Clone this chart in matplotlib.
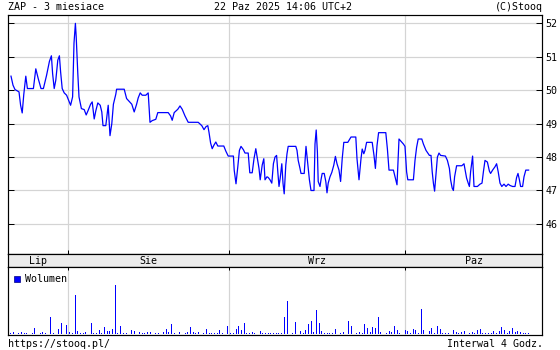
import numpy as np
import matplotlib
matplotlib.use("Agg")
import matplotlib.pyplot as plt
from matplotlib.patches import Rectangle

# time axis in half trading-day units (2 per session day)
t = [1.5, 2.0, 2.5, 3.5, 3.9, 4.3, 4.7, 5.2, 5.6, 7.1,
     7.7, 8.3, 9.0, 9.6, 10.4, 11.1, 11.6, 11.9, 12.3, 12.7,
     13.2, 13.6, 13.9, 14.3, 14.8, 15.4, 16.4, 16.9, 17.25, 17.6,
     17.8, 18.2, 18.5, 19.1, 19.8, 20.3, 20.8, 21.4, 21.8, 22.3,
     22.7, 23.2, 23.8, 24.2, 24.5, 25.2, 25.8, 26.25, 26.7, 27.1,
     27.7, 27.9, 29.8, 30.4, 31.7, 32.3, 32.9,
     33.3, 33.8, 34.3, 35.2, 35.8, 36.25, 36.8, 37.7, 38.2, 40.8,
     41.4, 41.8, 42.3, 43.2, 43.75, 44.3, 45.0, 45.8, 48.3, 49.2,
     49.75, 50.25, 50.7, 51.0, 51.4, 51.8, 52.2, 52.7, 53.2, 54.7,
     55.2, 55.8, 57.1, 57.3, 57.75, 58.2, 58.6, 59.0, 59.6, 60.0,
     60.8, 61.2, 61.8, 62.25, 62.7, 63.1, 63.5, 63.8, 64.3, 64.7,
     65.0, 65.5,
     65.8, 66.25, 66.7, 67.1, 67.5, 67.9, 68.2, 68.5, 68.8, 69.2,
     69.5, 69.8, 70.2, 70.5, 70.8, 72.7, 73.0, 73.3, 73.75, 74.0,
     74.8, 75.25, 75.7, 76.1, 76.5, 77.25, 77.5, 77.8, 78.1, 78.3,
     78.75, 79.0, 79.3, 79.8, 80.2, 80.5, 80.8, 81.25, 81.7, 82.2,
     82.6, 83.0, 83.5, 83.9, 84.3, 84.7, 85.7, 86.5, 87.7, 88.0,
     88.5, 89.0, 89.3, 89.7, 90.0, 90.4, 91.8, 92.25, 92.6, 93.0,
     93.4, 95.2, 95.6, 96.0, 97.1, 97.5, 98.0, 98.5,
     99.6, 100.0, 100.4, 100.7, 102.1, 102.5, 102.9, 103.3, 104.2, 104.6,
     105.25, 106.1, 106.5, 106.8, 107.1, 107.4, 107.75, 108.1, 108.5, 108.9,
     110.1, 110.6, 111.1, 111.4, 111.8, 112.1, 112.4, 112.9, 114.2, 114.75,
     115.1, 115.4, 115.8, 116.1, 116.4, 116.9, 117.25, 118.1, 118.75, 119.25,
     119.6, 120.0, 120.6, 121.1, 121.4, 121.9, 122.5, 122.9, 123.3, 123.75,
     124.2, 124.75, 125.25, 125.8, 126.25, 126.9, 127.5, 127.9, 128.25, 128.6,
     128.9, 129.4, 129.75, 130.2, 130.9]

price = [50.42, 50.15, 50.02, 49.95, 49.55, 49.32, 49.88, 50.42, 50.05, 50.05,
         50.64, 50.35, 50.05, 50.05, 50.45, 50.86, 51.03, 50.5, 50.05, 50.3,
         50.9, 51.03, 50.55, 50.05, 49.92, 49.85, 49.55, 49.8, 51.41, 52.0,
         51.6, 50.5, 49.8, 49.45, 49.42, 49.26, 49.4, 49.58, 49.65, 49.14,
         49.38, 49.62, 49.55, 49.35, 48.94, 48.94, 49.55, 48.64, 49.0, 49.58,
         49.88, 50.03, 50.03, 49.75, 49.58, 49.35, 49.58,
         49.77, 49.92, 49.85, 49.85, 49.92, 49.04, 49.09, 49.13, 49.33, 49.33,
         49.23, 49.1, 49.33, 49.43, 49.53, 49.43, 49.23, 49.04, 49.04, 48.94,
         48.82, 48.91, 48.94, 48.74, 48.42, 48.25, 48.35, 48.45, 48.33, 48.33,
         48.18, 48.03, 48.03, 47.61, 47.2, 47.71, 48.2, 48.32, 48.22, 48.12,
         48.12, 47.53, 47.53, 47.95, 48.25, 47.95, 47.66, 47.32, 47.76, 47.95,
         47.32, 47.41,
         47.39, 47.32, 47.22, 47.8, 48.0, 48.05, 47.56, 47.12, 47.37, 47.8,
         47.22, 46.9, 47.76, 48.1, 48.32, 48.32, 48.2, 47.9, 47.66, 47.51,
         47.51, 48.32, 47.8, 47.32, 47.0, 47.0, 48.39, 48.81, 48.15, 47.27,
         47.12, 47.32, 47.51, 47.51, 47.27, 46.93, 47.22, 47.41, 47.54, 47.76,
         48.02, 47.8, 47.61, 47.27, 47.95, 48.44, 48.44, 48.6, 48.6, 47.95,
         47.32, 47.95, 48.24, 48.1, 48.2, 48.44, 48.44, 48.05, 47.66, 48.34,
         48.73, 48.73, 48.24, 47.61, 47.61, 47.41, 47.17, 48.54,
         48.39, 48.32, 47.56, 47.32, 47.32, 47.9, 48.29, 48.54, 48.54, 48.39,
         48.2, 48.05, 48.05, 47.56, 47.22, 46.98, 47.51, 48.0, 48.12, 48.05,
         48.03, 47.9, 47.66, 47.32, 47.07, 47.0, 47.41, 47.74, 47.74, 47.8,
         47.56, 47.37, 47.22, 47.12, 47.56, 48.03, 47.12, 47.12, 47.19, 47.22,
         47.56, 47.9, 47.85, 47.58, 47.51, 47.61, 47.71, 47.8, 47.56, 47.22,
         47.12, 47.19, 47.12, 47.19, 47.15, 47.12, 47.12, 47.39, 47.51, 47.32,
         47.12, 47.12, 47.41, 47.61, 47.61]

# volume per 4h bar (relative units), first bar to last bar
volume = [5, 7, 0, 4, 7, 5, 4, 0, 4, 18,
          0, 4, 7, 4, 0, 52, 5, 0, 15, 34,
          0, 28, 7, 4, 117, 10, 5, 5, 7, 0,
          34, 4, 5, 12, 5, 22, 10, 10, 15, 147,
          4, 24, 5, 4, 0, 12, 10, 0, 7, 4,
          4, 7, 7, 0, 4, 4, 0, 7, 15, 7,
          30, 4, 0, 7, 0, 4, 7, 21, 7, 4,
          7, 0, 4, 15, 5, 4, 4, 4, 12, 5,
          0, 24, 4, 4, 15, 24, 12, 34, 4, 4,
          7, 4, 0, 10, 4, 4, 4, 4, 4, 4,
          4, 4, 52, 100, 0, 5, 37, 0, 10, 5,
          12, 31, 40, 7, 72, 34, 10, 5, 4, 4,
          4, 15, 0, 5, 7, 0, 40, 24, 0, 5,
          7, 5, 31, 19, 7, 22, 19, 52, 7, 0,
          4, 10, 7, 25, 12, 4, 0, 12, 10, 4,
          15, 12, 4, 75, 12, 0, 10, 19, 5, 25,
          15, 4, 4, 4, 0, 12, 7, 4, 7, 10,
          0, 4, 7, 5, 12, 15, 4, 4, 4, 4,
          10, 4, 10, 22, 12, 5, 10, 19, 7, 10,
          7, 4, 4, 4]
vol_first, vol_last = 1.4, 130.9

month_labels = ["Lip", "Sie", "Wrz", "Paz"]
month_starts = [15.75, 56, 100]
price_ticks = [46, 47, 48, 49, 50, 51, 52]

x_range = (0.75, 134.25)
y_range = (45.10, 52.25)

BLUE = "#0000ff"
GRID = "#d4d4d4"
MONO = "DejaVu Sans Mono"
FS = 7.2
PX = 0.72  # one pixel in points

fig = plt.figure(figsize=(5.6, 3.5), dpi=100)
W, H = 560, 350


def box(x0, y0, x1, y1):
    return [x0 / W, 1 - y1 / H, (x1 - x0) / W, (y1 - y0) / H]


ax = fig.add_axes(box(8, 15, 542, 254))
strip = fig.add_axes(box(8, 254, 542, 267))
axv = fig.add_axes(box(8, 267, 542, 335))

# price panel
ax.plot(t, price, color=BLUE, lw=0.9)
ax.set_xlim(*x_range)
ax.set_ylim(*y_range)
ax.set_yticks(price_ticks)
ax.set_yticklabels([str(p) for p in price_ticks], fontfamily=MONO, fontsize=FS)
ax.set_xticks(month_starts)
ax.set_xticklabels([])
ax.grid(True, color=GRID, lw=1.2 * PX)
ax.set_axisbelow(True)
ax.tick_params(axis="y", which="both", left=True, right=True, labelleft=False,
               labelright=True, direction="in", length=4, width=PX, pad=2.5)
ax.tick_params(axis="x", direction="in", length=3, width=PX, top=False)
for s in ax.spines.values():
    s.set_linewidth(1.2 * PX)

# month strip
strip.set_facecolor("#ececec")
strip.set_xlim(*x_range)
strip.set_ylim(0, 1)
strip.set_xticks([])
strip.set_yticks([])
bounds = [x_range[0]] + month_starts + [x_range[1]]
for i, lab in enumerate(month_labels):
    strip.text((bounds[i] + bounds[i + 1]) / 2, 0.45, lab, ha="center", va="center",
               fontfamily=MONO, fontsize=FS)
for s in strip.spines.values():
    s.set_linewidth(1.2 * PX)

# volume panel
vol_t = np.linspace(vol_first, vol_last, len(volume))
axv.bar(vol_t, volume, width=0.25, color=BLUE, linewidth=0, antialiased=False)
axv.set_xlim(*x_range)
axv.set_ylim(-1.5, 200)
axv.set_xticks(month_starts)
axv.set_xticklabels([])
axv.set_yticks([])
axv.grid(True, axis="x", color=GRID, lw=1.2 * PX)
axv.set_axisbelow(True)
axv.tick_params(axis="x", direction="in", length=2.5, width=PX, top=True, bottom=False)
for s in axv.spines.values():
    s.set_linewidth(1.2 * PX)

axv.add_patch(Rectangle((6 / 534, 0.78), 6 / 534, 0.09, transform=axv.transAxes,
                        facecolor=BLUE, edgecolor="#000080", lw=0.5))
axv.text(17 / 534, 0.825, "Wolumen", transform=axv.transAxes, ha="left", va="center",
         fontfamily=MONO, fontsize=FS)

# header / footer
fig.text(8 / W, 1 - 7 / H, "ZAP - 3 miesiace", ha="left", va="center",
         fontfamily=MONO, fontsize=FS)
fig.text(283 / W, 1 - 7 / H, "22 Paz 2025 14:06 UTC+2", ha="center", va="center",
         fontfamily=MONO, fontsize=FS)
fig.text(543 / W, 1 - 7 / H, "(C)Stooq", ha="right", va="center",
         fontfamily=MONO, fontsize=FS)
fig.text(8 / W, 1 - 344 / H, "https://stooq.pl/", ha="left", va="center",
         fontfamily=MONO, fontsize=FS)
fig.text(543 / W, 1 - 344 / H, "Interwal 4 Godz.", ha="right", va="center",
         fontfamily=MONO, fontsize=FS)

fig.savefig("out.png", dpi=100)
